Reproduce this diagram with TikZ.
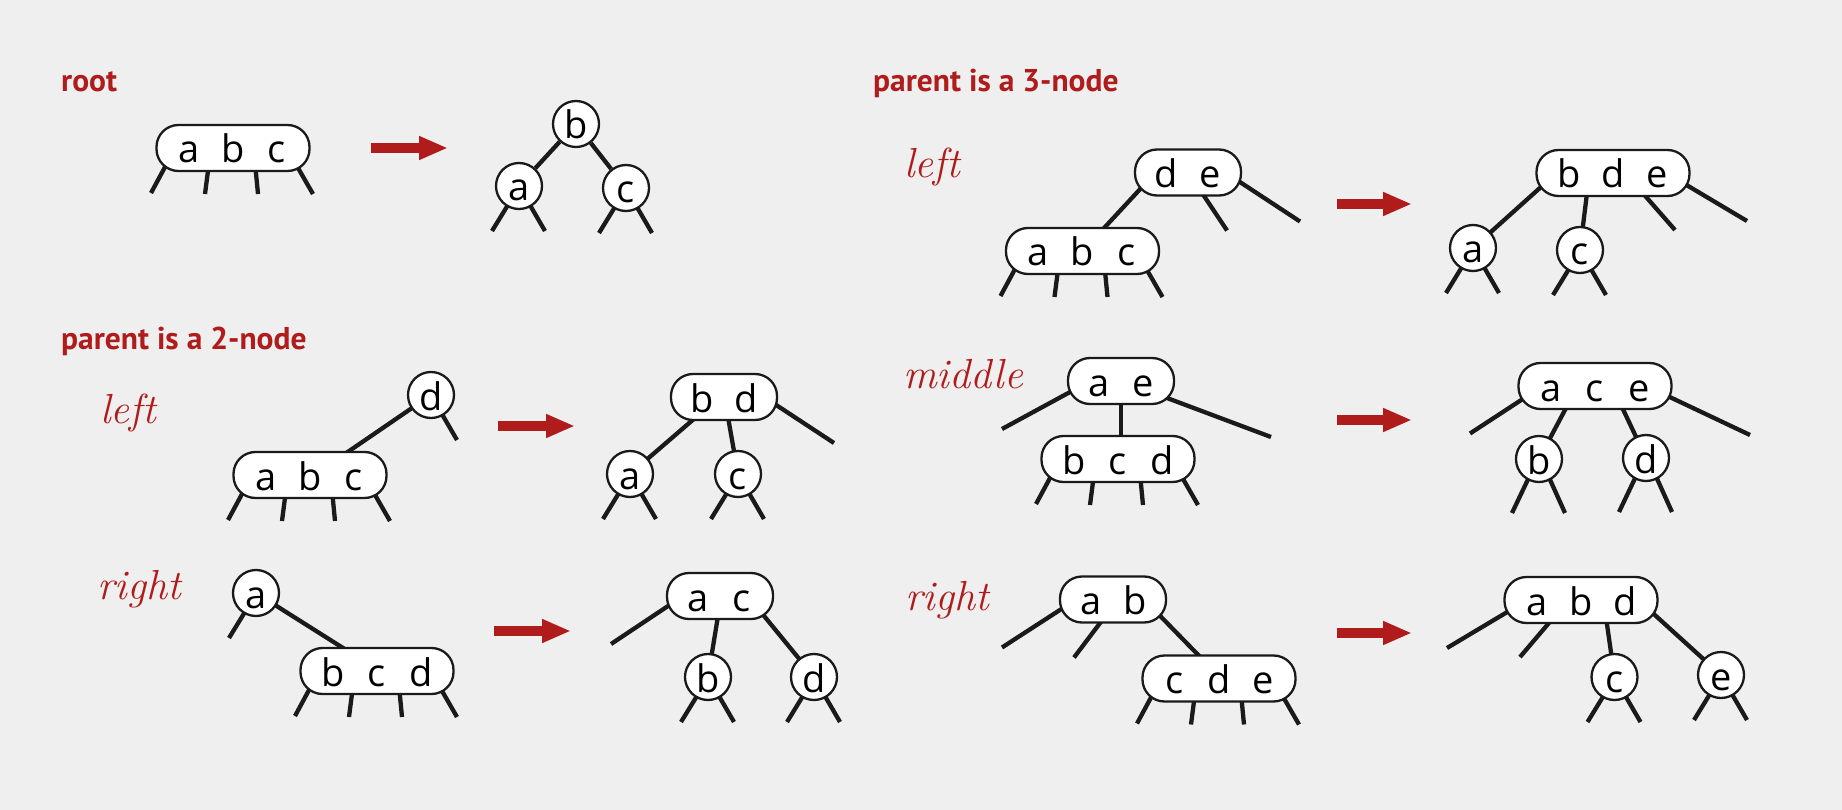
\documentclass[tikz,border=0pt]{standalone}
\usepackage{fontspec}
\usetikzlibrary{arrows.meta,calc}
\newfontfamily\keyfont{Open Sans}
\newfontfamily\labfont{PT Sans}
\definecolor{bgc}{HTML}{EFEFEF}
\definecolor{darkred}{HTML}{B01C1C}
\definecolor{ink}{HTML}{1A1A1A}
\pgfdeclarelayer{bgl}
\pgfdeclarelayer{edges}
\pgfsetlayers{bgl,edges,main}
\newcommand\kk[1]{\makebox[44pt]{#1}}
\newcommand\tleg[3]{\draw[edgeln] ($(#1)+(#2)$) -- ($(#1)+(#3)$);}
\newcommand\fourlegs[1]{\tleg{#1}{-61,6}{-82,45}\tleg{#1}{-24,15}{-28,46}\tleg{#1}{22,15}{25,46}\tleg{#1}{57,6}{80,46}}
\newcommand\twolegs[1]{\tleg{#1}{-8,14}{-27,45}\tleg{#1}{8,14}{26,45}}
\begin{document}
\begin{tikzpicture}[x=1pt,y=-1pt,
  keybox/.style={rectangle, rounded corners=22pt, draw=ink, fill=white, line width=2.3pt,
    minimum height=46pt, inner sep=0pt, text height=30pt, text depth=0pt,
    font=\keyfont\fontsize{38}{38}\selectfont},
  knodefour/.style={keybox, minimum width=153pt},
  knodethree/.style={keybox, minimum width=106pt},
  knodetwo/.style={circle, draw=ink, fill=white, line width=2.3pt, minimum size=46pt,
    inner sep=0pt, text height=30pt, text depth=0pt, font=\keyfont\fontsize{38}{38}\selectfont},
  edgeln/.style={line width=4.3pt, ink},
  arrowr/.style={line width=10.5pt, darkred, -{Triangle[length=29pt,width=22pt]}},
  hdlabel/.style={font=\labfont\bfseries\fontsize{31.5}{31.5}\selectfont, text=darkred, anchor=base west, inner sep=0pt},
  caselabel/.style={font=\itshape\fontsize{42}{42}\selectfont, text=darkred, anchor=base west, inner sep=0pt}]
\useasboundingbox (0,0) rectangle (1842,810);
\begin{pgfonlayer}{bgl}
\fill[bgc] (0,0) rectangle (1842,810);
\end{pgfonlayer}

% ---------- root ----------
\node[hdlabel] (hroot) at (61,92) {root};
\node[knodefour] (r4) at (233,148) {\kk{a}\kk{b}\kk{c}};
\coordinate (ar1s) at (371,148); \coordinate (ar1e) at (448,148);
\node[knodetwo] (rootb) at (576,124) {b};
\node[knodetwo] (roota) at (519,186) {a};
\node[knodetwo] (rootc) at (626,188) {c};

% ---------- parent is a 2-node ----------
\node[hdlabel] (h2) at (61,349) {parent is a 2-node};
\node[caselabel] (c2l) at (100,423) {left};
\node[knodetwo] (l2d) at (431,395) {d};
\node[knodefour] (l2abc) at (310,475) {\kk{a}\kk{b}\kk{c}};
\coordinate (ar2s) at (498,426); \coordinate (ar2e) at (575,426);
\node[knodethree] (l2bd) at (724,397) {\kk{b}\kk{d}};
\node[knodetwo] (l2a) at (630,474) {a};
\node[knodetwo] (l2c) at (738,474) {c};

\node[caselabel] (c2r) at (97,599) {right};
\node[knodetwo] (r2a) at (256,593) {a};
\node[knodefour] (r2bcd) at (377,671) {\kk{b}\kk{c}\kk{d}};
\coordinate (ar3s) at (494,631); \coordinate (ar3e) at (571,631);
\node[knodethree] (r2ac) at (720,596) {\kk{a}\kk{c}};
\node[knodetwo] (r2b) at (708,677) {b};
\node[knodetwo] (r2d) at (814,677) {d};

% ---------- parent is a 3-node ----------
\node[hdlabel] (h3) at (873,92) {parent is a 3-node};
\node[caselabel] (c3l) at (904,178) {left};
\node[knodethree] (l3de) at (1188,172.5) {\kk{d}\kk{e}};
\node[knodefour] (l3abc) at (1082.5,251) {\kk{a}\kk{b}\kk{c}};
\coordinate (ar4s) at (1337,204); \coordinate (ar4e) at (1412,204);
\node[knodefour] (l3bde) at (1613,173) {\kk{b}\kk{d}\kk{e}};
\node[knodetwo] (l3a) at (1473,248) {a};
\node[knodetwo] (l3c) at (1580,250) {c};

\node[caselabel] (c3m) at (903,388) {middle};
\node[knodethree] (mae) at (1121,381) {\kk{a}\kk{e}};
\node[knodefour] (mbcd) at (1118,459) {\kk{b}\kk{c}\kk{d}};
\coordinate (ar5s) at (1337,420); \coordinate (ar5e) at (1412,420);
\node[knodefour] (mace) at (1595,386) {\kk{a}\kk{c}\kk{e}};
\node[knodetwo] (mb) at (1539,459) {b};
\node[knodetwo] (md) at (1646,458) {d};

\node[caselabel] (c3r) at (905,610) {right};
\node[knodethree] (rab) at (1113,599.5) {\kk{a}\kk{b}};
\node[knodefour] (rcde) at (1219,678.5) {\kk{c}\kk{d}\kk{e}};
\coordinate (ar6s) at (1337,633); \coordinate (ar6e) at (1412,633);
\node[knodefour] (rabd) at (1581,600) {\kk{a}\kk{b}\kk{d}};
\node[knodetwo] (r3c) at (1614.5,677) {c};
\node[knodetwo] (r3e) at (1721,675) {e};

% ---------- arrows ----------
\foreach \i in {1,...,6} {\draw[arrowr] (ar\i s) -- (ar\i e);}

% ---------- connectors ----------
\begin{pgfonlayer}{edges}
% root
\fourlegs{r4}
\draw[edgeln] (rootb) -- (roota);
\draw[edgeln] (rootb) -- (rootc);
\twolegs{roota}\twolegs{rootc}
% 2-node left
\draw[edgeln] (l2d.center) -- ($(l2abc.north)+(35,3)$);
\tleg{l2d}{8,14}{26,45}
\fourlegs{l2abc}
\draw[edgeln] (l2a.center) -- ($(l2bd.south)+(-28,-4)$);
\draw[edgeln] (l2c.center) -- ($(l2bd.south)+(4,-4)$);
\tleg{l2bd}{40,0}{110,46}
\twolegs{l2a}\twolegs{l2c}
% 2-node right
\tleg{r2a}{-8,14}{-27,45}
\draw[edgeln] (r2a.center) -- ($(r2bcd.north)+(-31,3)$);
\fourlegs{r2bcd}
\tleg{r2ac}{-40,2}{-109,48}
\draw[edgeln] (r2b.center) -- ($(r2ac.south)+(-2,-4)$);
\draw[edgeln] (r2d.center) -- ($(r2ac.center)+(40,15)$);
\twolegs{r2b}\twolegs{r2d}
% 3-node left
\draw[edgeln] ($(l3abc.north)+(19.7,3.2)$) -- ($(l3de.center)+(-39,7)$);
\tleg{l3de}{11,16}{39,58}
\tleg{l3de}{42,3}{112,49}
\fourlegs{l3abc}
\draw[edgeln] (l3a.center) -- ($(l3bde.center)+(-62,5)$);
\draw[edgeln] (l3c.center) -- ($(l3bde.south)+(-26,-4)$);
\tleg{l3bde}{27,17}{62,57}
\tleg{l3bde}{60,4}{134,48}
\twolegs{l3a}\twolegs{l3c}
% middle
\draw[edgeln] (mae.center) -- (mae.center |- mbcd.center);
\tleg{mae}{-38,4}{-119,48}
\tleg{mae}{38,14}{150,56}
\fourlegs{mbcd}
\draw[edgeln] (mb.center) -- ($(mace.south)+(-28,-4)$);
\draw[edgeln] (md.center) -- ($(mace.south)+(26.5,-4)$);
\tleg{mace}{-60,5}{-125,47.5}
\tleg{mace}{62,5}{155,49}
\tleg{mb}{-8,14}{-27,54}\tleg{mb}{8,14}{26,54}
\tleg{md}{-8,14}{-27,54}\tleg{md}{8,14}{26,54}
% right
\tleg{rab}{-40,2}{-111,48}
\tleg{rab}{-8,17}{-39,58}
\draw[edgeln] ($(rab.center)+(37,6)$) -- ($(rcde.north)+(-17.5,4)$);
\fourlegs{rcde}
\tleg{rabd}{-62,5}{-134,48}
\tleg{rabd}{-27,17}{-61,57}
\draw[edgeln] (r3c.center) -- ($(rabd.south)+(25.4,-4)$);
\draw[edgeln] (r3e.center) -- ($(rabd.center)+(65,7)$);
\twolegs{r3c}\twolegs{r3e}
\end{pgfonlayer}
\end{tikzpicture}
\end{document}
